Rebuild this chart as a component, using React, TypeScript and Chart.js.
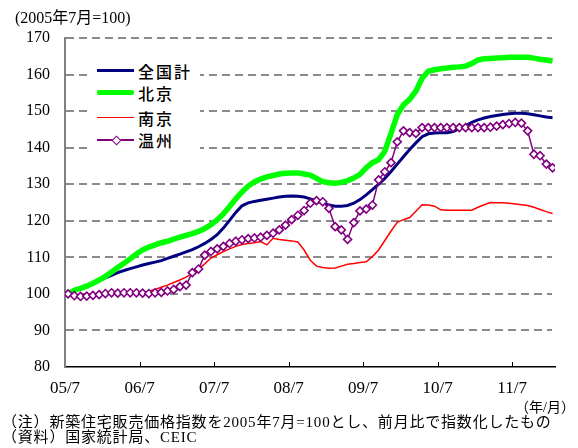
import React, { useEffect, useRef } from 'react';
import { Chart, registerables } from 'chart.js';

Chart.register(...registerables);

// x tick labels (every 12 months starting 2005/7)
const tickLabels = ['05/7', '06/7', '07/7', '08/7', '09/7', '10/7', '11/7'];
const seriesNames = ['全国計', '北京', '南京', '温州'];

// monthly index values, 2005/7 .. 2012/1
const national = [
  100, 101, 101.6, 102.3, 102.9, 103.6, 104.4, 105.1, 105.8, 106.4,
  106.9, 107.4, 107.9, 108.3, 108.7, 109.1, 109.7, 110.3, 110.9, 111.5,
  112.1, 112.9, 113.8, 114.9, 116.2, 118, 120.1, 122.3, 124.1, 124.9,
  125.3, 125.6, 125.9, 126.2, 126.5, 126.7, 126.8, 126.7, 126.5, 126,
  125.4, 124.9, 124.3, 124, 124, 124.2, 124.8, 125.8, 127.1, 128.5,
  130, 131.6, 133.5, 135.5, 137.5, 139.5, 141.3, 143, 143.8, 144,
  144.1, 144.1, 144.4, 145.2, 146, 146.9, 147.6, 148.1, 148.5, 148.8,
  149.1, 149.3, 149.4, 149.4, 149.3, 149, 148.7, 148.4, 148.2,
];
const beijing = [
  100, 101, 101.5, 102.1, 102.9, 103.8, 104.8, 106, 107.2, 108.4,
  109.6, 110.9, 112, 112.8, 113.4, 114, 114.4, 115, 115.5, 116,
  116.5, 117.1, 117.9, 118.9, 120.2, 121.9, 123.9, 126, 127.9, 129.5,
  130.6, 131.4, 132, 132.4, 132.8, 133, 133.1, 133.1, 132.8, 132.5,
  131.6, 130.7, 130.4, 130.3, 130.5, 131, 131.7, 132.7, 134.5, 135.9,
  136.7, 139, 144, 149, 151.7, 153.2, 155.5, 159, 160.9, 161.3,
  161.6, 161.8, 162, 162.1, 162.3, 163, 164, 164.3, 164.4, 164.5,
  164.6, 164.7, 164.7, 164.7, 164.7, 164.5, 164.2, 164, 163.7,
];
const nanjing = [
  100, 99.8, 99.8, 99.9, 100, 100.1, 100.2, 100.2, 100.3, 100.3,
  100.4, 100.4, 100.3, 100.7, 101.2, 101.8, 102.4, 103.1, 103.8, 104.6,
  105.6, 106.7, 108.2, 109.8, 110.7, 111.6, 112.3, 113, 113.5, 113.8,
  114, 114.3, 113.4, 115.2, 114.9, 114.7, 114.5, 114.2, 112, 109.2,
  107.6, 107.2, 107, 107.1, 107.6, 108.1, 108.3, 108.6, 108.8, 110.2,
  112, 114.6, 117.2, 119.6, 120.3, 120.9, 122.6, 124.4, 124.3, 124,
  123, 122.9, 122.9, 122.9, 122.9, 122.9, 123.7, 124.4, 125, 124.9,
  124.9, 124.8, 124.6, 124.4, 124.2, 123.7, 123.1, 122.5, 122,
];
const wenzhou = [
  100, 99.5, 99.3, 99.4, 99.6, 99.8, 100.1, 100.3, 100.2, 100.3,
  100.3, 100.3, 100.2, 100.1, 100.3, 100.4, 100.8, 101.2, 102, 102.4,
  105.8, 106.8, 110.6, 111.6, 112.3, 113, 113.8, 114.4, 114.8, 115.1,
  115.3, 115.5, 116, 116.6, 117.5, 118.8, 120.3, 121.5, 122.8, 124.8,
  125.5, 125.2, 123.4, 118.4, 117.5, 114.9, 119.5, 122.7, 123.2, 124.3,
  131.2, 133.4, 135.9, 141.6, 144.6, 144.1, 143.9, 145.5, 145.5, 145.5,
  145.5, 145.5, 145.5, 145.5, 145.5, 145.5, 145.5, 145.5, 145.6, 145.9,
  146.3, 146.6, 146.9, 146.7, 144.6, 138.2, 137.8, 135.5, 134.5,
];

const colors = ['#000080', '#00ff00', '#ff0000', '#800080'];
const widths = [3, 5.5, 1.5, 1.5];

const serif = "'Liberation Serif', 'Noto Sans CJK JP', serif";
const gothic = "'Noto Sans CJK JP', sans-serif";

const toXY = (arr: number[]) => arr.map((v, i) => ({ x: i, y: v }));

const axisDecor = {
  id: 'axisDecor',
  beforeDatasetsDraw(chart: any) {
    const { ctx, chartArea, scales } = chart;
    const y = scales.y;
    ctx.save();
    ctx.strokeStyle = '#666666';
    ctx.lineWidth = 1.5;
    ctx.setLineDash([8, 5]);
    y.ticks.forEach((t: any) => {
      if (t.value <= 80) return;
      const py = Math.round(y.getPixelForValue(t.value));
      ctx.beginPath();
      ctx.moveTo(chartArea.left + 1, py);
      ctx.lineTo(chartArea.right - 3, py);
      ctx.stroke();
    });
    ctx.restore();
  },
  afterDraw(chart: any) {
    const { ctx, chartArea, scales } = chart;
    const x = scales.x;
    ctx.save();
    ctx.strokeStyle = '#000';
    ctx.lineWidth = 1;
    x.ticks.forEach((t: any, i: number) => {
      if (i === 0) return;
      const px = Math.round(x.getPixelForValue(t.value)) + 0.5;
      ctx.beginPath();
      ctx.moveTo(px, chartArea.bottom);
      ctx.lineTo(px, chartArea.bottom - 5);
      ctx.stroke();
    });
    ctx.restore();
  },
};

export default function App() {
  const ref = useRef<HTMLCanvasElement | null>(null);

  useEffect(() => {
    if (!ref.current) return;
    const all = [national, beijing, nanjing, wenzhou];
    const chart = new Chart(ref.current, {
      type: 'line',
      data: {
        datasets: all.map((arr, k) => ({
          label: seriesNames[k],
          data: toXY(arr),
          borderColor: colors[k],
          backgroundColor: k === 3 ? '#ffffff' : colors[k],
          borderWidth: widths[k],
          pointRadius: k === 3 ? 4 : 0,
          pointStyle: 'rectRot',
          pointBorderColor: colors[k],
          pointBackgroundColor: '#ffffff',
          pointBorderWidth: 1.6,
          tension: 0,
          fill: false,
          order: 4 - k,
        })),
      },
      options: {
        animation: false,
        responsive: false,
        devicePixelRatio: 1,
        layout: { padding: { top: 38, right: 23, left: 0, bottom: 0 } },
        plugins: { legend: { display: false }, tooltip: { enabled: false } },
        scales: {
          x: {
            type: 'linear',
            min: -0.5,
            max: 78.4,
            afterBuildTicks: (scale: any) => {
              scale.ticks = tickLabels.map((_, k) => ({ value: k * 12 - 0.5 }));
            },
            afterFit: (scale: any) => {
              scale.height = 81;
            },
            ticks: {
              autoSkip: false,
              maxRotation: 0,
              padding: 11,
              color: '#000',
              font: { family: serif, size: 17 },
              callback: (_v: any, i: number) => tickLabels[i],
            },
            grid: { display: false, drawTicks: false },
            border: { display: true, color: '#000', width: 1.5 },
          },
          y: {
            min: 80,
            max: 170,
            afterFit: (scale: any) => {
              scale.width = 65;
            },
            ticks: {
              stepSize: 10,
              padding: 15,
              color: '#000',
              font: { family: serif, size: 16 },
            },
            grid: { display: false, drawTicks: false },
            border: { display: true, color: '#808080', width: 2 },
          },
        },
      },
      plugins: [axisDecor],
    } as any);
    return () => chart.destroy();
  }, []);

  const legendRows = [70.7, 92.7, 117.7, 140];

  return (
    <div style={{ position: 'absolute', left: 0, top: 0, width: 578, height: 448, background: '#fff' }}>
      <canvas ref={ref} width={578} height={448} style={{ position: 'absolute', left: 0, top: 0 }} />
      <div style={{ position: 'absolute', left: 15, top: 9, fontFamily: serif, fontSize: 16, lineHeight: '18px', whiteSpace: 'nowrap' }}>
        (2005年7月=100)
      </div>
      <div style={{ position: 'absolute', left: 88, top: 58, width: 112, height: 94, background: '#fff' }} />
      {seriesNames.map((name, k) => (
        <React.Fragment key={name}>
          <div
            style={{
              position: 'absolute',
              left: 97,
              width: 37,
              top: legendRows[k] - widths[k] / 2,
              height: widths[k],
              background: colors[k],
              borderRadius: k === 1 ? 2 : 0,
            }}
          />
          {k === 3 && (
            <div
              style={{
                position: 'absolute',
                left: 116 - 3.5,
                top: legendRows[k] - 3.5,
                width: 7,
                height: 7,
                boxSizing: 'border-box',
                border: '1.6px solid ' + colors[k],
                background: '#fff',
                transform: 'rotate(45deg)',
              }}
            />
          )}
          <div
            style={{
              position: 'absolute',
              left: 138,
              top: legendRows[k] - 11,
              height: 22,
              lineHeight: '22px',
              fontFamily: gothic,
              fontSize: 16,
              fontWeight: 500,
              letterSpacing: 2,
              whiteSpace: 'nowrap',
              color: '#000',
            }}
          >
            {name}
          </div>
        </React.Fragment>
      ))}
      <div style={{ position: 'absolute', right: 3, top: 400, fontFamily: serif, fontSize: 14, lineHeight: '16px', whiteSpace: 'nowrap' }}>
        （年/月）
      </div>
      <div style={{ position: 'absolute', left: 2, top: 414, fontFamily: serif, fontSize: 15, lineHeight: '16px', letterSpacing: 0.8, whiteSpace: 'nowrap' }}>
        （注）新築住宅販売価格指数を2005年7月=100とし、前月比で指数化したもの
      </div>
      <div style={{ position: 'absolute', left: 2, top: 429, fontFamily: serif, fontSize: 15, lineHeight: '16px', letterSpacing: 0.8, whiteSpace: 'nowrap' }}>
        （資料）国家統計局、CEIC
      </div>
    </div>
  );
}
